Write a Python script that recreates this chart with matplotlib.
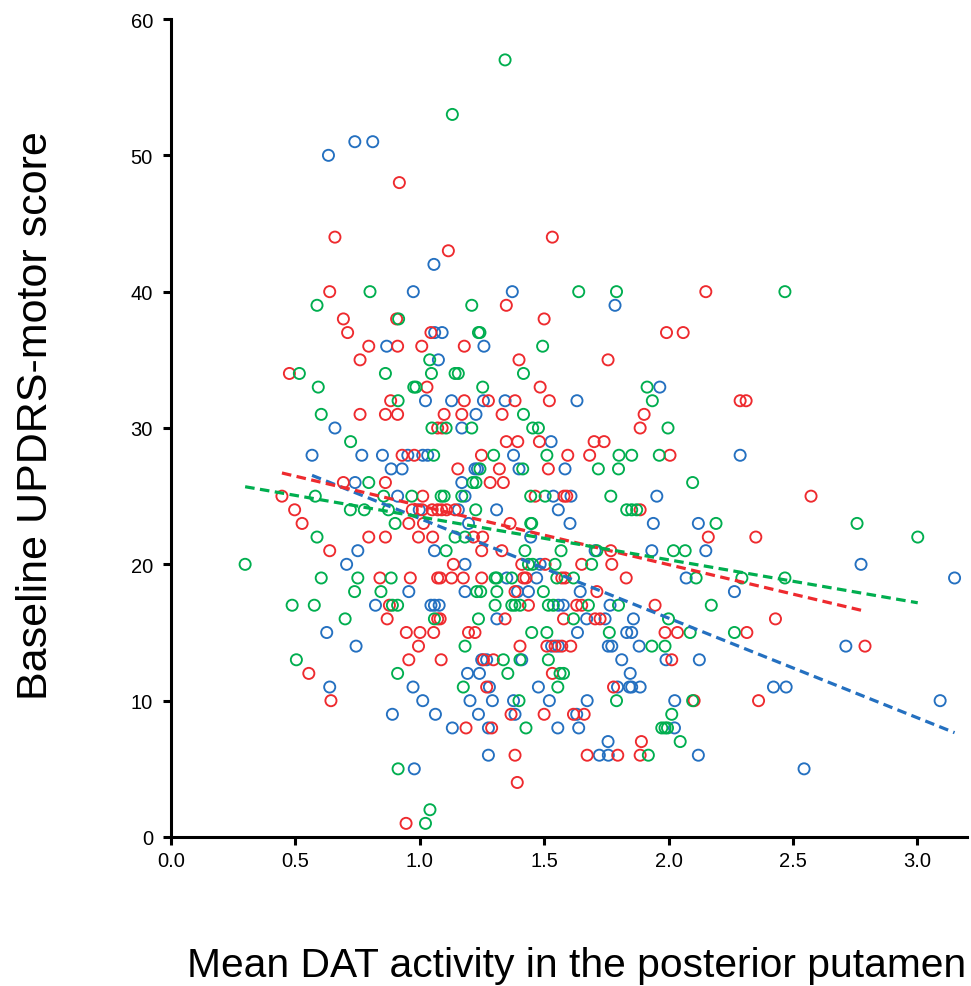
import numpy as np
import matplotlib.pyplot as plt

# UPDRS-motor score (integer rows) -> mean DAT activity values
blue_rows = [
    (51, [0.739, 0.811]), (50, [0.633]), (42, [1.057]), (40, [0.974, 1.372]),
    (39, [1.785]), (37, [1.060, 1.090]), (36, [0.867, 1.258]), (35, [1.075]),
    (33, [1.965]), (32, [1.023, 1.128, 1.256, 1.343, 1.632]), (31, [1.226]),
    (30, [0.659, 1.169]), (29, [1.528]),
    (28, [0.567, 0.767, 0.850, 0.952, 1.012, 1.032, 1.377, 2.288]),
    (27, [0.885, 0.929, 1.222, 1.232, 1.399, 1.584]), (26, [0.740, 1.169]),
    (25, [0.911, 1.182, 1.537, 1.608, 1.953]), (24, [0.998, 1.155, 1.309, 1.557]),
    (23, [1.196, 1.604, 1.939, 2.120]), (22, [1.446]),
    (21, [0.751, 1.059, 1.705, 1.933, 2.150]), (20, [0.706, 1.182, 1.484, 2.774]),
    (19, [1.350, 1.470, 2.071, 3.150]),
    (18, [0.956, 1.182, 1.393, 1.437, 1.645, 2.265]),
    (17, [0.822, 1.045, 1.059, 1.078, 1.557, 1.577, 1.765]),
    (16, [1.310, 1.671, 1.745, 1.859]), (15, [0.626, 1.634, 1.832, 1.852]),
    (14, [0.744, 1.530, 1.557, 1.758, 1.772, 1.882, 2.713]),
    (13, [1.249, 1.269, 1.410, 1.812, 1.990, 2.124]), (12, [1.192, 1.240, 1.846]),
    (11, [0.638, 0.973, 1.280, 1.477, 1.795, 1.843, 1.852, 1.886, 2.422, 2.473]),
    (10, [1.012, 1.202, 1.292, 1.377, 1.521, 1.673, 2.025, 3.092]),
    (9, [0.890, 1.063, 1.236, 1.383, 1.631]), (8, [1.131, 1.276, 1.555, 1.639, 2.024]),
    (7, [1.757]), (6, [1.276, 1.722, 1.758, 2.120]), (5, [0.978, 2.545]),
]

red_rows = [
    (48, [0.918]), (44, [0.659, 1.533]), (43, [1.115]), (40, [0.638, 2.150]),
    (39, [1.348]), (38, [0.693, 0.907, 1.500]), (37, [0.710, 1.045, 1.992, 2.059]),
    (36, [0.795, 0.911, 1.008, 1.179]), (35, [0.760, 1.399, 1.757]), (34, [0.476]),
    (33, [1.029, 1.484]), (32, [0.883, 1.179, 1.276, 1.383, 1.521, 2.288, 2.312]),
    (31, [0.760, 0.862, 0.911, 1.098, 1.169, 1.331, 1.902]), (30, [1.072, 1.090, 1.886]),
    (29, [1.348, 1.394, 1.481, 1.701, 1.741]),
    (28, [0.929, 0.978, 1.248, 1.595, 1.683, 2.006]), (27, [1.153, 1.320, 1.517]),
    (26, [0.693, 0.862, 1.283, 1.336]), (25, [0.446, 1.012, 1.464, 1.580, 1.591, 2.573]),
    (24, [0.497, 0.970, 1.010, 1.050, 1.072, 1.088, 1.108, 1.142, 1.886]),
    (23, [0.527, 0.956, 1.015, 1.363]),
    (22, [0.795, 0.862, 0.995, 1.052, 1.216, 1.253, 2.160, 2.351]),
    (21, [0.638, 1.249, 1.330, 1.768]), (20, [1.135, 1.410, 1.504, 1.651, 1.772]),
    (19, [0.840, 0.962, 1.072, 1.082, 1.128, 1.175, 1.249, 1.417, 1.427, 1.571, 1.584, 1.830]),
    (18, [1.383, 1.712]), (17, [0.878, 1.437, 1.631, 1.651, 1.946]),
    (16, [0.869, 1.072, 1.082, 1.343, 1.578, 1.705, 1.725, 2.430]),
    (15, [0.946, 1.001, 1.056, 1.196, 1.222, 1.986, 2.036, 2.315]),
    (14, [0.995, 1.403, 1.511, 1.544, 1.571, 1.607, 2.790]),
    (13, [0.956, 1.086, 1.256, 1.296, 2.013]), (12, [0.554, 1.533]), (11, [1.269, 1.779]),
    (10, [0.643, 2.103, 2.362]), (9, [1.367, 1.500, 1.618, 1.661]), (8, [1.186, 1.289]),
    (7, [1.891]), (6, [1.383, 1.673, 1.796, 1.886]), (4, [1.392]), (1, [0.945]),
]

green_rows = [
    (57, [1.343]), (53, [1.131]), (40, [0.800, 1.639, 1.791, 2.468]), (39, [0.587, 1.209]),
    (38, [0.915]), (37, [1.236, 1.242]), (36, [1.494]), (35, [1.040]),
    (34, [0.516, 0.862, 1.047, 1.142, 1.155, 1.417]),
    (33, [0.592, 0.976, 0.985, 1.253, 1.914]), (32, [0.913, 1.935]), (31, [0.604, 1.417]),
    (30, [1.049, 1.106, 1.209, 1.454, 1.477, 1.998]), (29, [0.722]),
    (28, [1.056, 1.297, 1.511, 1.801, 1.852, 1.963]), (27, [1.242, 1.414, 1.718, 1.799]),
    (26, [0.795, 1.213, 1.226, 2.097]),
    (25, [0.580, 0.855, 0.968, 1.086, 1.098, 1.169, 1.446, 1.504, 1.768]),
    (24, [0.721, 0.777, 0.874, 1.225, 1.832, 1.852, 1.872]),
    (23, [0.901, 1.446, 1.450, 2.191, 2.758]), (22, [0.587, 1.142, 1.182, 3.002]),
    (21, [1.106, 1.423, 1.568, 1.712, 2.020, 2.067]),
    (20, [0.298, 1.437, 1.454, 1.544, 1.691]),
    (19, [0.604, 0.751, 0.885, 1.303, 1.310, 1.370, 1.551, 1.618, 2.111, 2.295, 2.468]),
    (18, [0.738, 0.844, 1.229, 1.245, 1.310, 1.497]),
    (17, [0.487, 0.576, 0.890, 0.911, 1.303, 1.370, 1.383, 1.403, 1.517, 1.537, 1.678, 1.799, 2.172]),
    (16, [0.700, 1.059, 1.236, 1.618, 2.000]), (15, [1.450, 1.511, 1.762, 2.087, 2.265]),
    (14, [1.182, 1.933, 1.986]), (13, [0.504, 1.336, 1.403, 1.517]),
    (12, [0.911, 1.354, 1.564, 1.578]), (11, [1.175, 1.555]), (10, [1.399, 1.791, 2.097]),
    (9, [2.013]), (8, [1.427, 1.973, 1.986, 1.996]), (7, [2.047]), (6, [1.919]),
    (5, [0.913]), (2, [1.041]), (1, [1.023]),
]

# regression lines (slope, intercept)
blue_fit = (-7.307, 30.67)
red_fit = (-4.325, 28.63)
green_fit = (-3.148, 26.63)

blue = '#2470c0'
red = '#ee2a2e'
green = '#00ae4f'

xticks = [0.0, 0.5, 1.0, 1.5, 2.0, 2.5, 3.0]
yticks = [0, 10, 20, 30, 40, 50, 60]


def flatten(rows):
    xs, ys = [], []
    for y, row in rows:
        xs += row
        ys += [y] * len(row)
    return np.array(xs), np.array(ys)


plt.rcParams['font.family'] = ['Liberation Sans', 'DejaVu Sans']

fig = plt.figure(figsize=(9.71, 9.87), dpi=100)
ax = fig.add_axes([171 / 971, 149 / 987, 796 / 971, 818 / 987])

groups = [(blue_rows, blue_fit, blue), (red_rows, red_fit, red), (green_rows, green_fit, green)]
for rows, fit, col in groups:
    x, y = flatten(rows)
    ax.scatter(x, y, s=64, facecolors='none', edgecolors=col, linewidths=1.35,
               clip_on=False, zorder=2)

for rows, fit, col in groups:
    x, _ = flatten(rows)
    xx = np.array([x.min(), x.max()])
    ax.plot(xx, fit[0] * xx + fit[1], color=col, lw=2.3, dashes=(3, 1.7), zorder=3)

ax.set_xlim(0, 3.2)
ax.set_ylim(0, 60)
ax.set_xticks(xticks)
ax.set_xticklabels([f'{t:.1f}' for t in xticks])
ax.set_yticks(yticks)

for s in ['top', 'right']:
    ax.spines[s].set_visible(False)
for s in ['left', 'bottom']:
    ax.spines[s].set_linewidth(2.2)

ax.tick_params(direction='out', length=6, width=2.2, labelsize=14.5)
ax.tick_params(axis='y', pad=7)
ax.tick_params(axis='x', pad=4)
for lab in ax.get_xticklabels() + ax.get_yticklabels():
    lab.set_family(['Liberation Sans Narrow', 'Liberation Sans'])

ax.set_xlabel('Mean DAT activity in the posterior putamen', fontsize=29.3)
ax.set_ylabel('Baseline UPDRS-motor score', fontsize=31)
ax.xaxis.set_label_coords(0.509, -0.133)
ax.yaxis.set_label_coords(-0.145, 0.517)

fig.savefig('out.png', dpi=100)
